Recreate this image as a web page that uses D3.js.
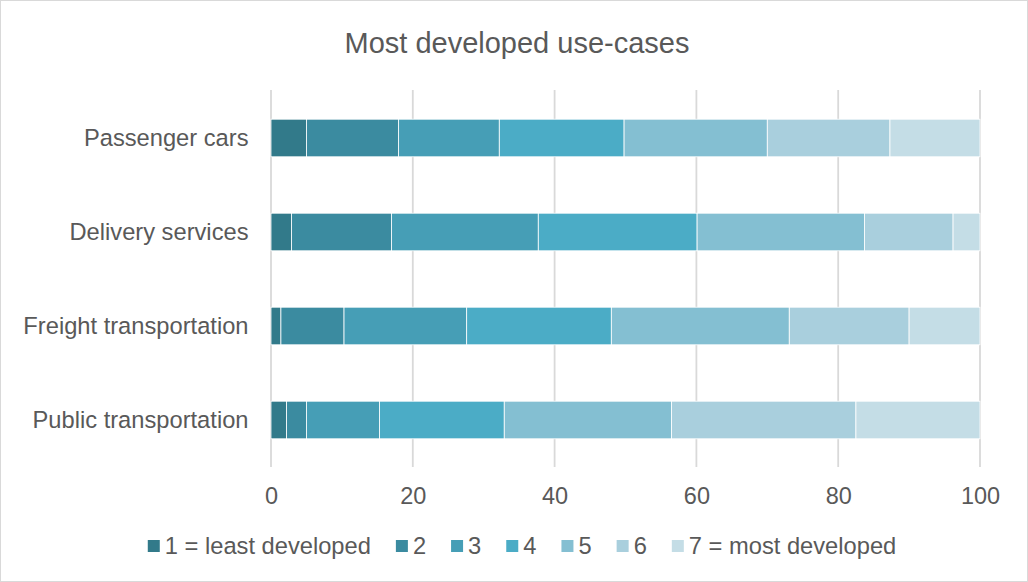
<!DOCTYPE html>
<html>
<head>
<meta charset="utf-8">
<script src="https://cdn.jsdelivr.net/npm/d3@7"></script>
<style>
  html, body { margin: 0; padding: 0; background: #fff; }
  svg { display: block; font-family: "Liberation Sans", Arial, sans-serif; }
</style>
</head>
<body>
<svg id="chart" width="1028" height="582"></svg>
<script>
// Use-case categories, top to bottom
const categories = ["Passenger cars", "Delivery services", "Freight transportation", "Public transportation"];

// Rating levels (1 = least developed ... 7 = most developed)
const levels = ["1 = least developed", "2", "3", "4", "5", "6", "7 = most developed"];

// Share of responses (%) per rating level, one array per level, in category order
const level1 = [5.0, 2.9, 1.4, 2.2];
const level2 = [13.0, 14.1, 8.9, 2.8];
const level3 = [14.2, 20.7, 17.3, 10.3];
const level4 = [17.6, 22.4, 20.4, 17.6];
const level5 = [20.2, 23.6, 25.1, 23.6];
const level6 = [17.3, 12.5, 16.9, 26.0];
const level7 = [12.7, 3.8, 10.0, 17.5];

const xTicks = [0, 20, 40, 60, 80, 100];

const colors = ["#327a8a", "#3b8ba0", "#469eb6", "#4bacc6", "#84bfd2", "#a9cfdd", "#c4dde6"];

const series = [level1, level2, level3, level4, level5, level6, level7];
const rows = categories.map((c, i) => {
  const r = { category: c };
  levels.forEach((l, j) => { r[l] = series[j][i]; });
  return r;
});

const svg = d3.select("#chart");
const W = 1028, H = 582;
const textColor = "#595959";
const gridColor = "#d9d9d9";

// Outer chart frame
svg.append("rect")
  .attr("x", 0.5).attr("y", 0.5)
  .attr("width", W - 1).attr("height", H - 1)
  .attr("fill", "#fff").attr("stroke", gridColor).attr("stroke-width", 1);

const plot = { left: 271, right: 980, top: 90, bottom: 467 };

const x = d3.scaleLinear().domain([0, 100]).range([plot.left, plot.right]);
const y = d3.scaleBand().domain(categories).range([plot.top + 1, plot.bottom]).paddingInner(0.6).paddingOuter(0.3);

// Title
svg.append("text")
  .attr("x", 517).attr("y", 53)
  .attr("text-anchor", "middle")
  .attr("fill", textColor)
  .attr("font-size", 29)
  .text("Most developed use-cases");

// Vertical gridlines
svg.append("g")
  .selectAll("line")
  .data(xTicks)
  .join("line")
  .attr("x1", d => x(d)).attr("x2", d => x(d))
  .attr("y1", plot.top).attr("y2", plot.bottom)
  .attr("stroke", gridColor).attr("stroke-width", 1.8);

// Stacked bars
const stack = d3.stack().keys(levels)(rows);
svg.append("g")
  .selectAll("g")
  .data(stack)
  .join("g")
  .attr("fill", (d, i) => colors[i])
  .selectAll("rect")
  .data(d => d)
  .join("rect")
  .attr("x", d => x(d[0]))
  .attr("y", d => y(d.data.category))
  .attr("width", d => x(d[1]) - x(d[0]))
  .attr("height", y.bandwidth())
  .attr("stroke", "#fff")
  .attr("stroke-width", 0.8);

// X axis labels
const xAxis = svg.append("g")
  .attr("transform", `translate(0,${plot.bottom})`)
  .call(d3.axisBottom(x).tickValues(xTicks).tickSize(0).tickPadding(20).tickFormat(d3.format("d")));
xAxis.select(".domain").remove();
xAxis.selectAll("text")
  .attr("fill", textColor)
  .attr("font-size", 23.5)
  .attr("font-family", "Liberation Sans, Arial, sans-serif");

// Category labels
const yAxis = svg.append("g")
  .attr("transform", `translate(${plot.left},0)`)
  .call(d3.axisLeft(y).tickSize(0).tickPadding(22.5));
yAxis.select(".domain").remove();
yAxis.selectAll("text")
  .attr("fill", textColor)
  .attr("font-size", 23.7)
  .attr("font-family", "Liberation Sans, Arial, sans-serif");

// Legend
const legend = svg.append("g");
const sq = 12, sqGap = 5, itemGap = 25, legendY = 546;
let cursor = 0;
levels.forEach((l, i) => {
  const g = legend.append("g");
  g.append("rect")
    .attr("x", 0).attr("y", legendY - sq / 2)
    .attr("width", sq).attr("height", sq)
    .attr("fill", colors[i]);
  const t = g.append("text")
    .attr("x", sq + sqGap).attr("y", legendY)
    .attr("dy", "0.35em")
    .attr("fill", textColor)
    .attr("font-size", 23.7)
    .text(l);
  const w = sq + sqGap + t.node().getComputedTextLength();
  g.attr("transform", `translate(${cursor},0)`);
  cursor += w + itemGap;
});
const totalW = cursor - itemGap;
legend.attr("transform", `translate(${522 - totalW / 2},0)`);
</script>
</body>
</html>
